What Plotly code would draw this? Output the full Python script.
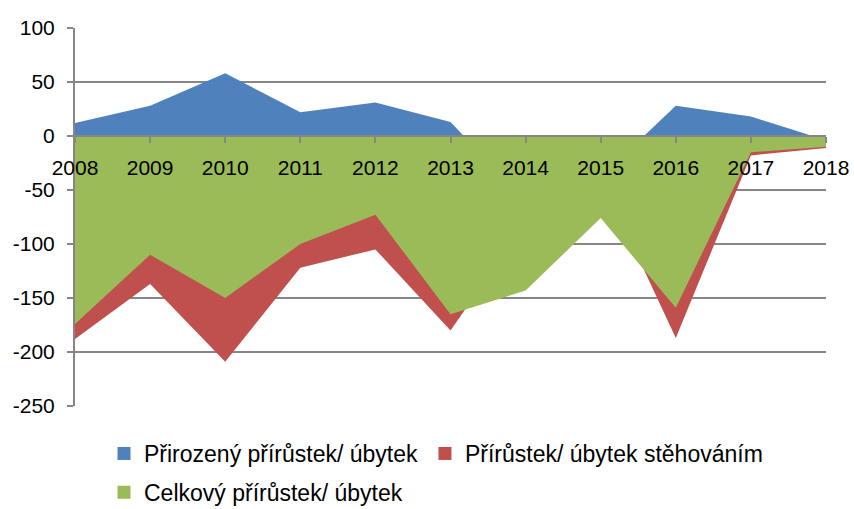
import plotly.graph_objects as go

years = [2008, 2009, 2010, 2011, 2012, 2013, 2014, 2015, 2016, 2017, 2018]
natural = [12, 28, 58, 22, 31, 13, -60, -38, 28, 18, -4]
migration = [-188, -137, -209, -122, -105, -180, -80, -38, -187, -18, -11]
total = [-174, -110, -150, -100, -73, -165, -143, -76, -159, -15, -10]

names = ["Přirozený přírůstek/ úbytek", "Přírůstek/ úbytek stěhováním", "Celkový přírůstek/ úbytek"]
colors = ["#4F81BD", "#C0504D", "#9BBB59"]
series = [natural, migration, total]
y_ticks = [100, 50, 0, -50, -100, -150, -200, -250]

fig = go.Figure()
for name, vals, col in zip(names, series, colors):
    fig.add_trace(go.Scatter(x=years, y=vals, mode="none", fill="tozeroy",
                             fillcolor=col, showlegend=False, hoverinfo="skip"))

legends = ["legend", "legend3", "legend2"]
for name, col, lg in zip(names, colors, legends):
    fig.add_trace(go.Scatter(x=[None], y=[None], mode="markers", name=name,
                             marker=dict(symbol="square", size=13, color=col),
                             legend=lg))

font = "Liberation Sans, Arial, sans-serif"
leg_common = dict(orientation="h", xanchor="left", yanchor="middle",
                  font=dict(size=23, color="#000"), bgcolor="rgba(0,0,0,0)")
fig.update_layout(
    width=854, height=509,
    margin=dict(l=75, r=28, t=28, b=103, autoexpand=False),
    paper_bgcolor="white", plot_bgcolor="white",
    font=dict(family=font, size=21, color="#000"),
    xaxis=dict(range=[2008, 2018], tickmode="array", tickvals=years,
               ticktext=[str(y) for y in years],
               anchor="free", position=250 / 350,
               showgrid=False, zeroline=False, showline=True,
               linecolor="#868686", linewidth=2, ticks="outside", ticklen=6,
               tickcolor="#868686", tickwidth=2, ticklabelstandoff=7,
               tickfont=dict(size=21, color="#000")),
    yaxis=dict(range=[-250, 100], tickmode="array", tickvals=y_ticks,
               ticktext=[str(v) for v in y_ticks], domain=[0, 1],
               showgrid=True, gridcolor="#868686", gridwidth=1.5,
               zeroline=False, showline=True, linecolor="#868686", linewidth=2,
               ticks="outside", ticklen=6, tickcolor="#868686", tickwidth=2,
               ticklabelstandoff=8, tickfont=dict(size=21, color="#000")),
    legend=dict(x=0.0386, y=-0.1257, **leg_common),
    legend3=dict(x=0.466, y=-0.1257, **leg_common),
    legend2=dict(x=0.0386, y=-0.228, **leg_common),
)

fig.write_html("out.html", config={"displayModeBar": False},
               post_script="document.body.style.margin='0';document.body.style.overflow='hidden';")
